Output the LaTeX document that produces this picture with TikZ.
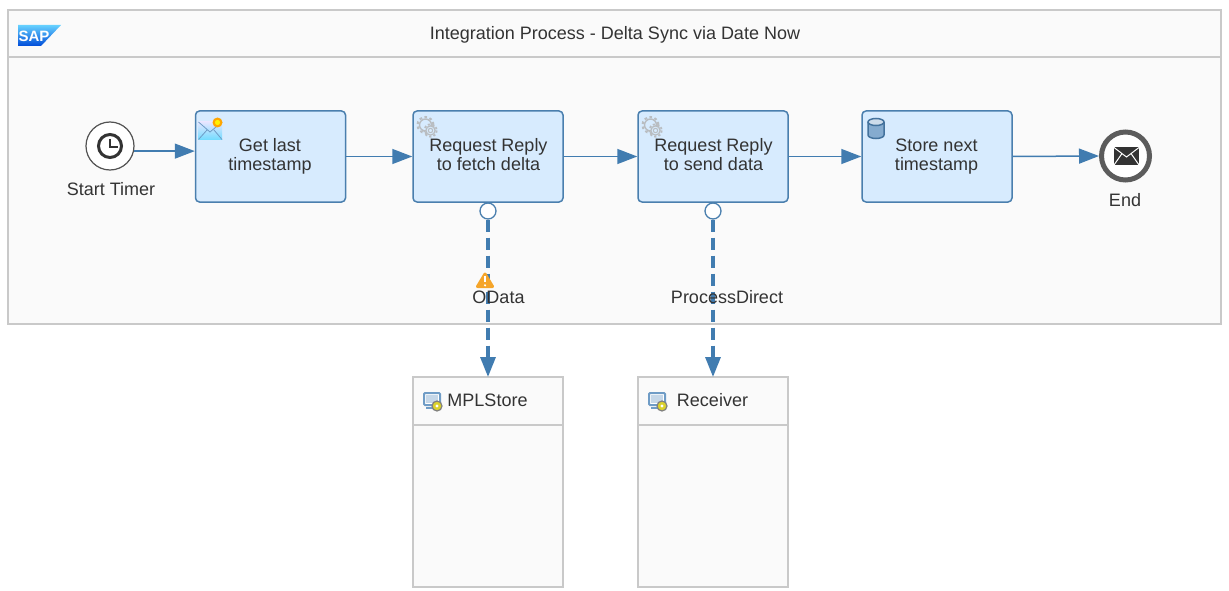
\documentclass[tikz,border=0pt]{standalone}
\usepackage{fontspec}
\setmainfont{Liberation Sans}
\usetikzlibrary{arrows.meta,calc,shadings}
\definecolor{pborder}{HTML}{C9C9C9}
\definecolor{pfill}{HTML}{FAFAFA}
\definecolor{tfill}{HTML}{D7EBFE}
\definecolor{tborder}{HTML}{4A7FAE}
\definecolor{flow}{HTML}{417CB0}
\definecolor{txt}{HTML}{333333}
\definecolor{darkic}{HTML}{333333}
\definecolor{iconblue}{HTML}{6F9CC6}
\definecolor{gearc}{HTML}{B9BDC1}
\definecolor{warn}{HTML}{F5A52A}
\newcommand{\lbl}{\fontsize{18}{19}\selectfont}
\newcommand{\gearicon}[2]{%
  \begin{scope}[shift={(#1,#2)}]
    \draw[gearc,line width=1.4pt] (-1.5,-2) circle (6);
    \draw[gearc,line width=2pt,dash pattern=on 2.6pt off 2.6pt] (-1.5,-2) circle (8);
    \draw[gearc,line width=1.3pt,fill=tfill] (3.5,3.5) circle (4.6);
    \draw[gearc,line width=1.8pt,dash pattern=on 2.2pt off 2.2pt] (3.5,3.5) circle (6.2);
    \draw[gearc,line width=1pt,fill=tfill] (3.5,3.5) circle (2.2);
  \end{scope}}
\newcommand{\sysicon}[2]{%
  \begin{scope}[shift={(#1,#2)}]
    \draw[iconblue,line width=2pt,fill=white,rounded corners=1pt] (0,0) rectangle (16,12);
    \fill[iconblue!40] (2,2) rectangle (14,10);
    \draw[iconblue,line width=2pt] (2,15) -- (9,15);
    \draw[gray,line width=1.2pt,fill=yellow!60!olive!80!white] (13,13) circle (5);
    \fill[white] (13,13) circle (1.7);
  \end{scope}}
\tikzset{
  x=1pt,y=-1pt,
  lane/.style={draw=pborder,fill=pfill,line width=1.5pt},
  headline/.style={draw=pborder,line width=1.3pt},
  taskbox/.style={draw=tborder,fill=tfill,line width=1.5pt,rounded corners=4pt,minimum width=150pt,minimum height=91pt,inner sep=0pt},
  tasktext/.style={text=txt,align=center,font=\lbl,inner sep=0pt},
  plain/.style={text=txt,font=\lbl,inner sep=0pt},
  seqflow/.style={draw=flow,line width=1.5pt,-{Triangle[length=20pt,width=15pt]}},
  msgflow/.style={draw=flow,line width=3.2pt,dash pattern=on 12pt off 6pt,-{Triangle[length=20pt,width=15pt]}},
  port/.style={circle,draw=tborder,fill=white,line width=1.3pt,minimum size=16pt,inner sep=0pt},
}
\begin{document}
\begin{tikzpicture}
\useasboundingbox (0,0) rectangle (1229,591);
\fill[white] (0,0) rectangle (1229,591);
% integration process
\path[lane] (8,10) rectangle (1221,324);
\path[headline] (8,57) -- (1221,57);
\node[plain] (title) at (615,34.5) {Integration Process - Delta Sync via Date Now};
% SAP logo
\shade[top color=blue!30!cyan!60!white,bottom color=blue!65!cyan!85!black,shading angle=0] (18,25) -- (61,25) -- (41,46) -- (18,46) -- cycle;
\node[text=white,font=\fontsize{15}{15}\selectfont\bfseries,inner sep=0pt] (saptext) at (34,36) {SAP};
% participants
\path[lane] (413,377) rectangle (563,587);
\path[headline] (413,425) -- (563,425);
\path[lane] (638,377) rectangle (788,587);
\path[headline] (638,425) -- (788,425);
\coordinate (mplstore) at (488,377);
\coordinate (receiver) at (713,377);
\node[plain] (mpltext) at (487.5,400.5) {MPLStore};
\node[plain] (rectext) at (712.5,400.5) {Receiver};
\sysicon{424}{393}
\sysicon{649}{393}
% events
\node[circle,draw=darkic!85,fill=white,line width=1.2pt,minimum size=48pt,inner sep=0pt] (start) at (110,146) {};
\draw[darkic,line width=3pt] (110,146) circle (11.5);
\draw[darkic,line width=2.4pt] (110,139) -- (110,147) -- (118,147);
\node[plain] (startlabel) at (111,189) {Start Timer};
\node[circle,draw=darkic!80,fill=white,line width=5pt,minimum size=48pt,inner sep=0pt] (endev) at (1125.5,156) {};
\fill[darkic] (1114,147) rectangle (1139,165);
\draw[white,line width=1pt] (1114,147.5) -- (1126.5,157) -- (1139,147.5) (1114,165) -- (1122,153.5) (1139,165) -- (1131,153.5);
\node[plain] (endlabel) at (1125,200) {End};
% tasks
\node[taskbox] (t1) at (270.5,156.5) {};
\node[taskbox] (t2) at (488,156.5) {};
\node[taskbox] (t3) at (713,156.5) {};
\node[taskbox] (t4) at (937,156.5) {};
\node[tasktext] (t1text) at (270,156) {Get last\\timestamp};
\node[tasktext] (t2text) at (488.5,155) {Request Reply\\to fetch delta};
\node[tasktext] (t3text) at (713.5,155) {Request Reply\\to send data};
\node[tasktext] (t4text) at (936.5,157) {Store next\\timestamp};
% task icons
\shade[top color=blue!10!white,bottom color=blue!25!cyan!55!white] (198.5,122) rectangle (222,139.5);
\draw[iconblue,line width=.8pt] (198.5,122) -- (210,132) -- (222,122) (198.5,139.5) -- (207,130) (222,139.5) -- (214,130);
\fill[orange!70!yellow] (217.5,122.5) circle (5);
\fill[yellow] (217.5,122.5) circle (2.6);
\gearicon{427}{127}
\gearicon{652}{127}
\draw[tborder!90!black,line width=1.5pt,fill=iconblue!85] (868,122) -- (868,135) arc[start angle=180,end angle=0,x radius=8,y radius=3.5] -- (884,122);
\draw[tborder!90!black,line width=1.5pt,fill=iconblue!35] (876,122) ellipse (8 and 3.5);
% sequence flows
\draw[seqflow] (start.-12) -- (start.-12 -| t1.west);
\draw[seqflow] (t1.east) -- (t2.west);
\draw[seqflow] (t2.east) -- (t3.west);
\draw[seqflow] (t3.east) -- (t4.west);
\draw[seqflow] (t4.east) -- (endev.west);
% message flows
\node[port] (p1) at (488,211) {};
\node[port] (p2) at (713,211) {};
\draw[tborder,line width=1.3pt] (t2.south) -- (p1.north);
\draw[tborder,line width=1.3pt] (t3.south) -- (p2.north);
\draw[msgflow] (p1.south) -- (mplstore);
\draw[msgflow] (p2.south) -- (receiver);
\node[plain] (odata) at (498.5,297) {OData};
\node[plain] (pdirect) at (727,297) {ProcessDirect};
% warning
\fill[warn,draw=warn,line width=3pt,line join=round] (485,274) -- (492.5,286.5) -- (477.5,286.5) -- cycle;
\draw[white,line width=2pt] (485,275.5) -- (485,282);
\fill[white] (485,285.3) circle (1.2);
\end{tikzpicture}
\end{document}
